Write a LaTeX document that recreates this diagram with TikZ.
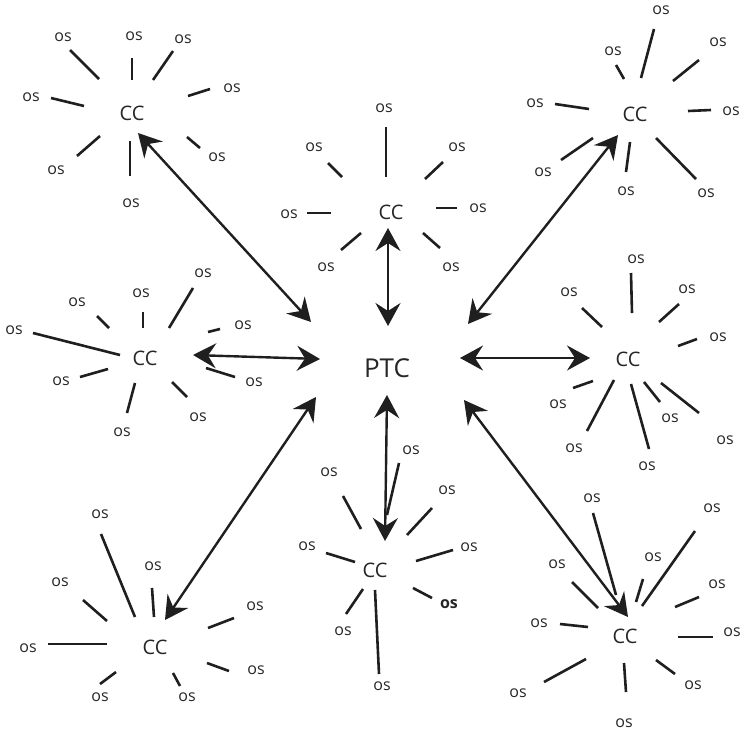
\documentclass[tikz,border=0pt]{standalone}
\usepackage{fontspec}
\setmainfont{Open Sans}
\usetikzlibrary{arrows.meta}
\begin{document}
\begin{tikzpicture}[x=1pt,y=-1pt,
  os/.style={font=\fontsize{16}{16}\selectfont, inner sep=0pt, text=black!85},
  osb/.style={os, font=\fontsize{16}{16}\selectfont\bfseries},
  cc/.style={font=\fontsize{20}{20}\selectfont, inner sep=0pt, text=black!85},
  ptc/.style={font=\fontsize{26}{26}\selectfont, inner sep=0pt, text=black!85},
  spoke/.style={line width=2.6pt, draw=black!88},
  link/.style={line width=2.4pt, draw=black!88,
    {Stealth[length=23pt,width=25pt,inset=8pt]}-{Stealth[length=23pt,width=25pt,inset=8pt]}}]
\useasboundingbox (0,0) rectangle (744,734);

% central node
\node[ptc] (ptc) at (387,368) {PTC};

% cluster centres
\node[cc] (ccA) at (132,113) {CC};
\node[cc] (ccB) at (391,212) {CC};
\node[cc] (ccC) at (635,114) {CC};
\node[cc] (ccD) at (145,358) {CC};
\node[cc] (ccE) at (628,359) {CC};
\node[cc] (ccF) at (155,647) {CC};
\node[cc] (ccG) at (375,570) {CC};
\node[cc] (ccH) at (625,636) {CC};

% os labels
\foreach \x/\y [count=\i] in {63/37,134/36,183/39,232/88,31/97,217/157,56/170,131/203}
  \node[os] (osA\i) at (\x,\y) {os};
\foreach \x/\y [count=\i] in {384/108,314/147,457/147,289/214,478/208,326/267,451/267}
  \node[os] (osB\i) at (\x,\y) {os};
\foreach \x/\y [count=\i] in {661/10,718/42,613/51,535/103,731/111,543/172,626/191,706/193}
  \node[os] (osC\i) at (\x,\y) {os};
\foreach \x/\y [count=\i] in {203/273,141/293,77/302,14/330,243/325,61/381,254/382,198/417,122/432}
  \node[os] (osD\i) at (\x,\y) {os};
\foreach \x/\y [count=\i] in {636/259,569/292,687/289,718/337,558/404,670/418,574/448,725/440,647/466}
  \node[os] (osE\i) at (\x,\y) {os};
\foreach \x/\y [count=\i] in {100/514,153/566,60/582,255/606,28/648,256/670,100/697,187/697}
  \node[os] (osF\i) at (\x,\y) {os};
\foreach \x/\y [count=\i] in {411/450,329/472,447/490,307/546,469/547,343/631,382/686}
  \node[os] (osG\i) at (\x,\y) {os};
\node[osb] (osG8) at (449,604) {os};
\foreach \x/\y [count=\i] in {592/498,712/508,557/564,653/557,717/584,539/623,732/632,693/685,518/693,624/723}
  \node[os] (osH\i) at (\x,\y) {os};

% spokes
\foreach \a/\b/\c/\d in {
  70/50/99/79, 132/58/132/80, 173/51/153/80, 188/96/210/89, 51/98/84/106,
  100/136/77/156, 187/137/200/148, 130/141/130/176,
  386/127/386/177, 328/163/342/177, 443/162/425/179, 307/213/331/213,
  436/208/457/208, 361/233/341/250, 423/233/440/248,
  654/29/641/78, 699/60/673/81, 616/65/624/79, 555/104/589/109,
  688/111/711/110, 593/138/561/160, 630/142/626/172, 656/138/696/179,
  193/288/169/328, 143/312/143/328, 97/316/109/328, 33/333/120/355,
  208/332/220/329, 80/377/108/369, 206/368/235/377, 135/383/127/413, 172/382/187/397,
  631/273/632/313, 582/308/602/327, 679/304/659/322, 697/339/678/346,
  593/381/573/388, 614/380/587/431, 631/384/649/449, 644/382/660/402, 661/383/699/413,
  101/534/135/617, 152/588/154/617, 83/600/107/621, 48/644/107/644,
  234/618/208/628, 207/663/229/671, 116/672/100/684, 173/673/180/686,
  399/463/387/515, 343/496/361/529, 432/508/407/535, 326/553/355/562,
  453/550/416/561, 413/588/432/598, 363/589/346/614, 375/590/379/674,
  593/513/616/595, 695/531/642/606, 643/579/636/602, 572/582/598/608,
  699/597/675/607, 560/624/588/627, 678/637/713/637, 586/659/544/682,
  624/663/626/692, 656/660/675/674}
  \draw[spoke] (\a,\b) -- (\c,\d);

% arrow end points
\coordinate (tA) at (138,133);  \coordinate (pA) at (311,322);
\coordinate (tB) at (388,228);  \coordinate (pB) at (388,326);
\coordinate (tC) at (618,135);  \coordinate (pC) at (468,324);
\coordinate (tD) at (193,355);  \coordinate (pD) at (320,359);
\coordinate (tE) at (590,358);  \coordinate (pE) at (460,358);
\coordinate (tF) at (165,620);  \coordinate (pF) at (316,397);
\coordinate (tG) at (385,541);  \coordinate (pG) at (387,395);
\coordinate (tH) at (628,617);  \coordinate (pH) at (464,400);

\foreach \k in {A,B,C,D,E,F,G,H}
  \draw[link] (t\k) -- (p\k);
\end{tikzpicture}
\end{document}
